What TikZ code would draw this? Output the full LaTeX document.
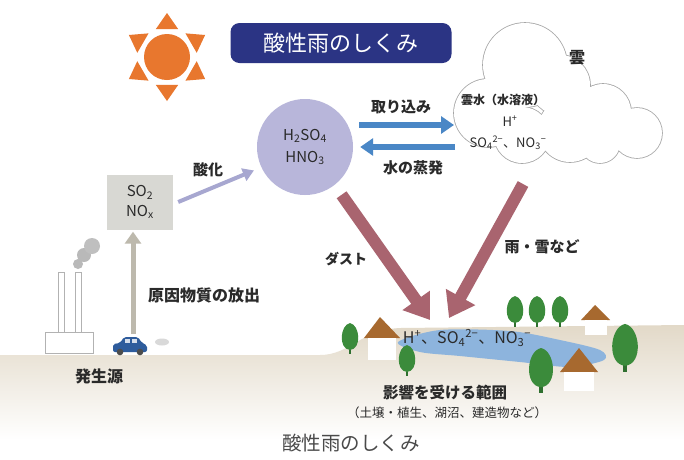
\documentclass[tikz,border=0pt]{standalone}
\usepackage{fontspec}
\setmainfont{Noto Sans CJK JP}
\usetikzlibrary{arrows.meta}

\definecolor{navy}{HTML}{2B3484}
\definecolor{sunc}{HTML}{E8772E}
\definecolor{acidc}{HTML}{B8B6DA}
\definecolor{gasc}{HTML}{D8D8D3}
\definecolor{oxc}{HTML}{A7A7D0}
\definecolor{bluec}{HTML}{4A87C6}
\definecolor{redc}{HTML}{A9646F}
\definecolor{emitc}{HTML}{BDB9AD}
\definecolor{groundc}{HTML}{E2D9C8}
\definecolor{lakec}{HTML}{8DB4DD}
\definecolor{treec}{HTML}{3B8B3B}
\definecolor{roofc}{HTML}{A7692F}
\definecolor{carc}{HTML}{2E5C9C}
\definecolor{ink}{HTML}{2A2A2A}

\newcommand\fsz[2]{\fontsize{#1}{#2}\selectfont}

\tikzset{
  treepic/.pic={
    \fill[treec!80!black] (-1.2,0) rectangle (1.2,-8);
    \fill[treec] (0,-4) .. controls (-12,-5) and (-10,-29) .. (0,-31)
                        .. controls (10,-29) and (12,-5) .. (0,-4);
  },
  redarrow/.style={draw=redc,line width=12pt,-{Triangle[width=32pt,length=24pt]}},
  bluearrow/.style={draw=bluec,line width=6pt,-{Triangle[width=17pt,length=13pt]}},
  oxarrow/.style={draw=oxc,line width=4pt,-{Triangle[width=13pt,length=11pt]}},
  emitarrow/.style={draw=emitc,line width=5pt,-{Triangle[width=16pt,length=12pt]}},
  lbl/.style={font=\fsz{15}{18}\bfseries},
}

\begin{document}
\begin{tikzpicture}
  [x=1pt,y=-1pt,every node/.style={inner sep=0pt,text=ink}]
  \fill[white] (0,0) rectangle (684,459);
  \useasboundingbox (0,0) rectangle (684,459);

  \shade[top color=groundc,middle color=groundc!90,bottom color=white]
    (0,355) -- (320,355) .. controls (350,355) and (360,330) .. (400,328)
    -- (684,325) -- (684,440) -- (0,440) -- cycle;
  \fill[lakec] plot[smooth cycle] coordinates
    {(398,342) (440,330) (510,331) (560,340) (600,350) (604,360)
     (570,367) (520,362) (460,356) (420,352)};

  \fill[roofc] (364,338) -- (380,317) -- (400,338) -- cycle;
  \fill[white] (368,338) rectangle (396,360);
  \fill[roofc] (581,320) -- (595,305) -- (610,320) -- cycle;
  \fill[white] (585,320) rectangle (607,335);
  \fill[roofc] (560,372) -- (579,348) -- (598,372) -- cycle;
  \fill[white] (564,372) rectangle (594,391);

  \pic at (350,354) {treepic};
  \pic at (407,376) {treepic};
  \pic at (515,327) {treepic};
  \pic at (537,327) {treepic};
  \pic at (560,327) {treepic};
  \pic[scale=1.45] at (541,393) {treepic};
  \pic[scale=1.55] at (625,372) {treepic};

  \fill[sunc] (167,57) circle (23);
  \foreach \a in {30,90,...,330}
    \fill[sunc,shift={(167,57)}] (\a:44) -- (\a+22:30) -- (\a-22:30) -- cycle;

  \foreach \cx/\cy/\cr in {525/65/42,488/113/34,522/135/28,570/130/32,
                           603/112/28,637/133/25,560/85/30,600/143/20}
    \draw[gray!70,line width=1.6pt] (\cx,\cy) circle (\cr);
  \foreach \cx/\cy/\cr in {525/65/42,488/113/34,522/135/28,570/130/32,
                           603/112/28,637/133/25,560/85/30,600/143/20}
    \fill[white] (\cx,\cy) circle (\cr);

  \draw[gray!60,fill=white] (45,332) rectangle (93,353);
  \draw[gray!60,fill=white] (58,272) rectangle (64,332);
  \draw[gray!60,fill=white] (75,272) rectangle (81,332);
  \fill[gray!55] (78,264) circle (5);
  \fill[gray!55] (84,255) circle (7);
  \fill[gray!50] (92,246) circle (8);

  \fill[carc,rounded corners=2] (113,352) -- (113,344) -- (120,343) -- (124,337)
    -- (138,337) -- (142,343) -- (147,345) -- (147,352) -- cycle;
  \fill[white!80!carc] (125,339) rectangle (130,343);
  \fill[white!80!carc] (132,339) rectangle (137,343);
  \fill[black!70] (120,352) circle (3.3);
  \fill[black!70] (140,352) circle (3.3);
  \fill[gray!30] (162,342) ellipse (7 and 3.5);
  \coordinate (car) at (133,334);

  \node[fill=navy,rounded corners=9pt,minimum width=221pt,minimum height=40pt,
        text=white,font=\fsz{22}{24}] (title) at (341,43) {酸性雨のしくみ};
  \node[circle,fill=acidc,minimum size=96pt,align=center,font=\fsz{15}{22}]
    (acid) at (305,147) {H\textsubscript{2}SO\textsubscript{4}\\HNO\textsubscript{3}};
  \node[fill=gasc,minimum width=66pt,minimum height=55pt,align=center,
        font=\fsz{15}{20}] (gas) at (140,202) {SO\textsubscript{2}\\NO\textsubscript{x}};

  \node[font=\fsz{16}{18}\bfseries] (kumo) at (577,58) {雲};
  \node[font=\fsz{12}{14}\bfseries] (cloudw) at (503,100) {雲水（水溶液）};
  \node[font=\fsz{13}{14}] (hion) at (510,121) {H\textsuperscript{+}};
  \node[font=\fsz{13}{14}] (ions) at (508,143)
    {SO\textsubscript{4}\textsuperscript{2−}、NO\textsubscript{3}\textsuperscript{−}};

  \coordinate (cw1) at (454,125);
  \coordinate (cw2) at (455,147);
  \draw[bluearrow,shorten <=6pt] (acid.east |- cw1) -- (cw1);
  \draw[bluearrow,shorten >=7pt] (cw2) -- (acid.east |- cw2);
  \node[lbl] (intake) at (401,107) {取り込み};
  \node[lbl] (evap) at (413,168) {水の蒸発};

  \draw[oxarrow,shorten >=8pt] ([xshift=5pt]gas.east) -- (acid.205);
  \node[lbl] (oxid) at (208,170) {酸化};

  \draw[emitarrow,shorten >=2pt] (car) -- (car |- gas.south);
  \node[lbl,font=\fsz{16}{18}\bfseries] (emit) at (204,295) {原因物質の放出};
  \node[lbl,font=\fsz{16}{18}\bfseries] (source) at (99,376) {発生源};

  \coordinate (hit1) at (430,320);
  \coordinate (hit2) at (449,318);
  \coordinate (rain) at (523,184);
  \draw[redarrow,shorten <=12pt] (acid.-52) -- (hit1);
  \draw[redarrow] (rain) -- (hit2);
  \node[lbl,font=\fsz{14}{16}\bfseries] (dust) at (346,259) {ダスト};
  \node[lbl] (snow) at (542,247) {雨・雪など};

  \node[font=\fsz{16}{18}] (ground) at (467,338)
    {H\textsuperscript{+}、SO\textsubscript{4}\textsuperscript{2−}、NO\textsubscript{3}\textsuperscript{−}};
  \node[font=\fsz{15.5}{18}\bfseries] (area) at (445,393) {影響を受ける範囲};
  \node[font=\fsz{12.5}{14}] (areas) at (447,413) {（土壌・植生、湖沼、建造物など）};
  \node[font=\fsz{19.5}{22},text=ink!85] (caption) at (351,443) {酸性雨のしくみ};
\end{tikzpicture}
\end{document}
